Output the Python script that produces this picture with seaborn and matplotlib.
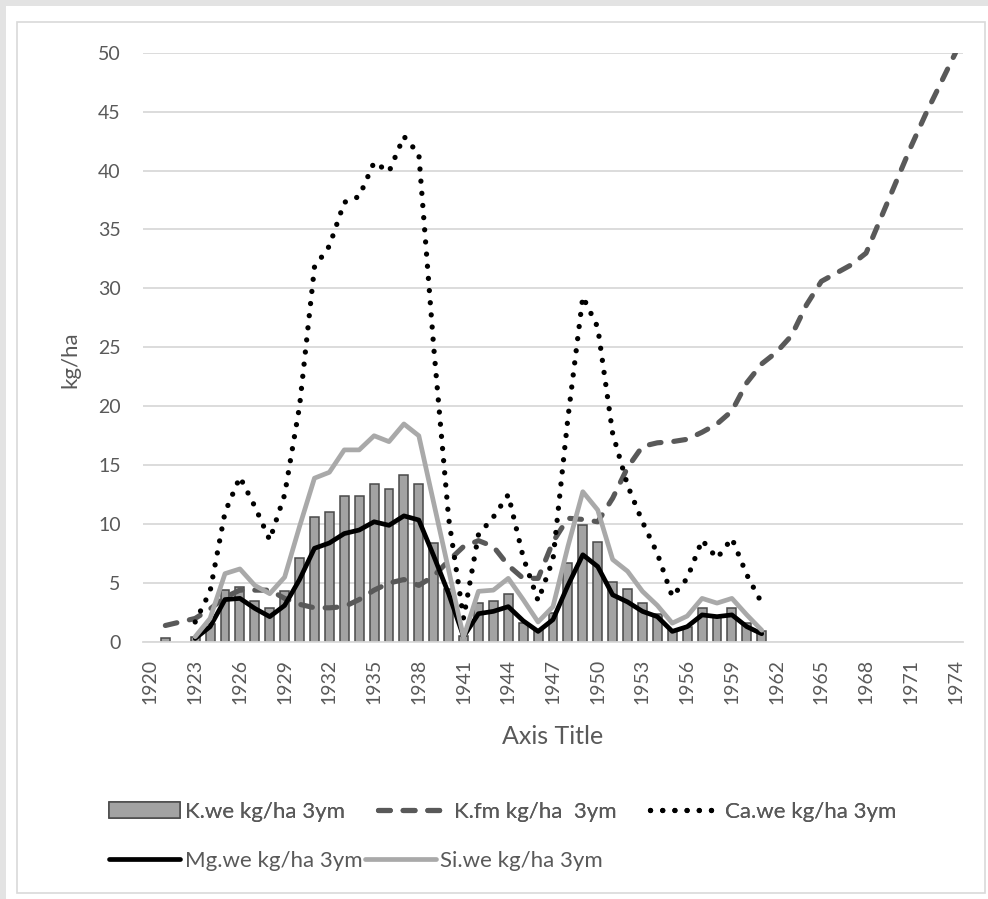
import numpy as np
import pandas as pd
import matplotlib
matplotlib.use("Agg")
import matplotlib.pyplot as plt
import seaborn as sns
from matplotlib.patches import Rectangle

# ---------------- data ----------------
years = list(range(1920, 1975))

# K.we kg/ha 3ym (bars), 1920-1961
k_we = [np.nan, 0.3, np.nan, 0.4, 1.5, 4.4, 4.7, 3.5, 2.9, 4.3,
        7.1, 10.6, 11.0, 12.4, 12.4, 13.4, 13.0, 14.2, 13.4, 8.4,
        4.5, 0.5, 3.3, 3.5, 4.1, 1.6, 1.0, 2.5, 6.7, 9.9,
        8.5, 5.1, 4.5, 3.3, 2.4, 1.0, 1.3, 2.9, 2.2, 2.9,
        1.6, 0.9]
k_we_start = 1920

# K.fm kg/ha 3ym, 1921-1974
k_fm = [1.4, 1.7, 2.0, 2.8, 3.8, 4.4, 4.4, 4.4, 3.7, 3.2,
        2.9, 2.9, 3.0, 3.6, 4.4, 5.0, 5.3, 4.8, 5.6, 6.9,
        8.1, 8.6, 8.1, 6.5, 5.4, 5.4, 8.5, 10.5, 10.4, 10.2,
        12.2, 14.8, 16.6, 16.9, 17.0, 17.2, 17.8, 18.5, 19.6, 22.0,
        23.6, 24.6, 26.0, 28.6, 30.6, 31.3, 32.0, 33.0, 36.0, 39.0,
        42.0, 44.8, 47.4, 50.0]
k_fm_start = 1921

# Ca.we kg/ha 3ym, 1923-1961
ca_we = [1.7, 4.3, 11.0, 14.0, 11.5, 8.65, 12.5, 20.0, 31.8, 33.6,
         37.3, 37.8, 40.7, 39.9, 42.9, 41.4, 25.0, 10.5, 2.0, 9.1,
         10.6, 12.5, 7.2, 3.5, 7.0, 19.0, 29.3, 26.7, 17.7, 13.3,
         10.2, 7.5, 3.85, 5.4, 8.65, 7.1, 8.8, 5.7, 3.3]
ca_we_start = 1923

# Mg.we kg/ha 3ym, 1923-1961
mg_we = [0.3, 1.3, 3.6, 3.7, 2.85, 2.15, 3.1, 5.3, 7.95, 8.4,
         9.2, 9.5, 10.2, 9.9, 10.7, 10.35, 7.3, 4.1, 0.45, 2.4,
         2.6, 3.0, 1.8, 0.9, 1.9, 4.8, 7.4, 6.4, 4.0, 3.4,
         2.6, 2.15, 0.9, 1.3, 2.3, 2.15, 2.3, 1.3, 0.7]
mg_we_start = 1923

# Si.we kg/ha 3ym, 1923-1961
si_we = [0.45, 2.0, 5.8, 6.2, 4.8, 4.1, 5.5, 9.8, 13.9, 14.4,
         16.3, 16.3, 17.5, 17.0, 18.5, 17.5, 11.8, 6.1, 0.4, 4.3,
         4.4, 5.4, 3.6, 1.7, 3.0, 8.1, 12.75, 11.2, 7.0, 6.0,
         4.3, 3.1, 1.6, 2.2, 3.7, 3.3, 3.7, 2.3, 1.0]
si_we_start = 1923

labels = ["K.we kg/ha 3ym", "K.fm kg/ha  3ym", "Ca.we kg/ha 3ym",
          "Mg.we kg/ha 3ym", "Si.we kg/ha 3ym"]
y_ticks = list(range(0, 55, 5))
x_ticks = list(range(1920, 1975, 3))


def pad(vals, start):
    s = [np.nan] * (start - years[0]) + list(vals)
    s += [np.nan] * (len(years) - len(s))
    return s


df = pd.DataFrame({
    "year": years,
    "K.we": pad(k_we, k_we_start),
    "K.fm": pad(k_fm, k_fm_start),
    "Ca.we": pad(ca_we, ca_we_start),
    "Mg.we": pad(mg_we, mg_we_start),
    "Si.we": pad(si_we, si_we_start),
})

# ---------------- style ----------------
sns.set_theme(style="white")
plt.rcParams['font.family'] = ['Lato', 'DejaVu Sans']
TXT = '#595959'

W, H = 988, 899
fig = plt.figure(figsize=(W / 100, H / 100), dpi=100, facecolor='#e3e3e3')
fig.patches.append(Rectangle((6 / W, 0), 1, (H - 6) / H, transform=fig.transFigure,
                             facecolor='white', edgecolor='none', zorder=-10))
fig.patches.append(Rectangle((17 / W, 6 / H), (985 - 17) / W, (893 - 22) / H,
                             transform=fig.transFigure, facecolor='none',
                             edgecolor='#d9d9d9', lw=1.2, zorder=-5))

ax = fig.add_axes([143 / W, (H - 642) / H, 820 / W, 589.3 / H])
ax.set_facecolor('none')

sns.barplot(data=df, x="year", y="K.we", native_scale=True, width=0.6,
            color='#a3a3a3', edgecolor='#4a4a4a', linewidth=1.1, saturation=1,
            errorbar=None, ax=ax, label=labels[0], zorder=2)
sns.lineplot(data=df, x="year", y="K.fm", color='#595959', lw=3.7,
             linestyle=(0, (2.3, 2.5)), dash_capstyle='round', ax=ax,
             label=labels[1], zorder=3)
sns.lineplot(data=df, x="year", y="Ca.we", color='black', lw=3.8,
             linestyle=(0, (0.01, 2.3)), dash_capstyle='round', ax=ax,
             label=labels[2], zorder=4)
sns.lineplot(data=df, x="year", y="Mg.we", color='black', lw=3.4,
             solid_joinstyle='round', ax=ax, label=labels[3], zorder=5)
sns.lineplot(data=df, x="year", y="Si.we", color='#a9a9a9', lw=3.4,
             solid_joinstyle='round', ax=ax, label=labels[4], zorder=6)

ax.set_xlim(1919.5, 1974.5)
ax.set_ylim(0, 50)
ax.set_yticks(y_ticks)
ax.set_xticks(x_ticks)
ax.set_xticklabels([str(x) for x in x_ticks], rotation=90)
ax.grid(axis='y', color='#d9d9d9', lw=1.3)
ax.grid(axis='x', visible=False)
ax.set_axisbelow(True)
for s in ['top', 'right', 'left']:
    ax.spines[s].set_visible(False)
ax.spines['bottom'].set_color('#d9d9d9')
ax.spines['bottom'].set_linewidth(1.3)
ax.tick_params(axis='both', length=0, labelcolor=TXT, labelsize=14)
ax.tick_params(axis='x', pad=12)
ax.tick_params(axis='y', pad=16)

ax.set_xlabel("Axis Title", fontsize=18, color=TXT)
ax.xaxis.label.set_va('center')
ax.xaxis.set_label_coords(0.5, -(737 - 642) / 589.3)
ax.set_ylabel("kg/ha", fontsize=16, color=TXT)
ax.yaxis.label.set_va('center')
ax.yaxis.set_label_coords(-(143 - 70) / 820, (642 - 360) / 589.3)

handles, labs = ax.get_legend_handles_labels()
if ax.get_legend():
    ax.get_legend().remove()
hmap = dict(zip(labs, handles))

leg1 = fig.legend([hmap[l] for l in labels[:3]], labels[:3], ncol=3,
                  loc='center left', bbox_to_anchor=(98 / W, 1 - 812 / H),
                  frameon=False, fontsize=16, handlelength=3.2, handleheight=0.75,
                  handletextpad=0.2, columnspacing=1.5, borderpad=0, labelcolor=TXT)
leg2 = fig.legend([hmap[l] for l in labels[3:]], labels[3:], ncol=2,
                  loc='center left', bbox_to_anchor=(98 / W, 1 - 861 / H),
                  frameon=False, fontsize=16, handlelength=3.2,
                  handletextpad=0.2, columnspacing=0.1, borderpad=0, labelcolor=TXT)
fig.add_artist(leg1)

fig.savefig("out.png", dpi=100, facecolor=fig.get_facecolor())
